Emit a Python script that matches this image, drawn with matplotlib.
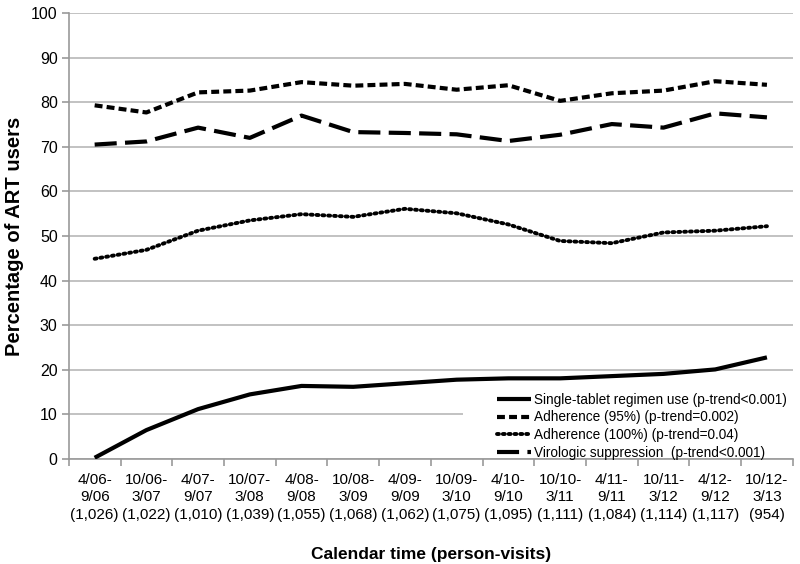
import matplotlib.pyplot as plt
from matplotlib.patches import Rectangle
import numpy as np

plt.rcParams['font.family'] = ['Liberation Sans', 'DejaVu Sans']

# Calendar periods and person-visits
periods = ['4/06-\n9/06', '10/06-\n3/07', '4/07-\n9/07', '10/07-\n3/08', '4/08-\n9/08',
           '10/08-\n3/09', '4/09-\n9/09', '10/09-\n3/10', '4/10-\n9/10', '10/10-\n3/11',
           '4/11-\n9/11', '10/11-\n3/12', '4/12-\n9/12', '10/12-\n3/13']
visits = ['(1,026)', '(1,022)', '(1,010)', '(1,039)', '(1,055)', '(1,068)', '(1,062)',
          '(1,075)', '(1,095)', '(1,111)', '(1,084)', '(1,114)', '(1,117)', '(954)']

single_tablet = [0.3, 6.5, 11.2, 14.5, 16.4, 16.2, 17.0, 17.8, 18.1, 18.1, 18.6, 19.1, 20.1, 22.8]
adherence_95 = [79.3, 77.7, 82.2, 82.6, 84.5, 83.7, 84.1, 82.8, 83.8, 80.3, 82.0, 82.6, 84.7, 83.9]
adherence_100 = [44.9, 46.9, 51.2, 53.5, 54.9, 54.3, 56.1, 55.1, 52.6, 48.9, 48.4, 50.8, 51.2, 52.2]
virologic = [70.5, 71.2, 74.3, 72.0, 77.0, 73.3, 73.1, 72.8, 71.3, 72.7, 75.1, 74.3, 77.5, 76.6]

labels = ['Single-tablet regimen use (p-trend<0.001)',
          'Adherence (95%) (p-trend=0.002)',
          'Adherence (100%) (p-trend=0.04)',
          'Virologic suppression  (p-trend<0.001)']

fig = plt.figure(figsize=(8, 5.64), dpi=100)
ax = fig.add_axes([0.086, 0.186, 0.905, 0.791])

x = np.arange(len(periods))
ax.plot(x, single_tablet, color='black', lw=3, solid_capstyle='butt', label=labels[0], zorder=3)
ax.plot(x, adherence_95, color='black', lw=3, dashes=(1.9, 1.0), label=labels[1], zorder=3)
ax.plot(x, adherence_100, color='black', lw=2.8, dashes=(0.5, 1.0), dash_capstyle='round',
        label=labels[2], zorder=3)
ax.plot(x, virologic, color='black', lw=3, dashes=(5.3, 2.0), label=labels[3], zorder=3)

ax.set_xlim(-0.5, len(periods) - 0.5)
ax.set_ylim(0, 100)
ax.set_yticks(np.arange(0, 101, 10))
ax.grid(axis='y', color='#bdbdbd', lw=1.3)
ax.set_axisbelow(True)

# white area behind the legend, hiding part of the grid
ax.add_patch(Rectangle((0.544, 0.003), 0.456, 0.163, transform=ax.transAxes,
                       facecolor='white', edgecolor='none', zorder=1))

ax.set_xticks(x)
ax.set_xticklabels([p + '\n' + v for p, v in zip(periods, visits)], fontsize=11,
                   linespacing=1.3)
ax.set_xticks(np.arange(-0.5, len(periods)), minor=True)
ax.tick_params(axis='x', which='major', length=0, pad=10)
ax.tick_params(axis='x', which='minor', length=5, color='#999999', width=1.2)
ax.tick_params(axis='y', length=5, color='#999999', width=1.2, labelsize=11.5, pad=3)

for s in ['top', 'right']:
    ax.spines[s].set_visible(False)
ax.spines['left'].set_color('#999999')
ax.spines['bottom'].set_color('#999999')
ax.spines['left'].set_linewidth(1.2)
ax.spines['bottom'].set_linewidth(1.2)

ax.set_ylabel('Percentage of ART users', fontsize=14.5, fontweight='bold', labelpad=5)
ax.set_xlabel('Calendar time (person-visits)', fontsize=12.5, fontweight='bold', labelpad=18)

leg = ax.legend(loc='upper left', bbox_to_anchor=(0.592, 0.149), fontsize=9.8,
                frameon=False, handlelength=2.45, handletextpad=0.25, labelspacing=0.27,
                borderpad=0, borderaxespad=0)
leg.set_zorder(4)

fig.savefig('out.png', dpi=100)
